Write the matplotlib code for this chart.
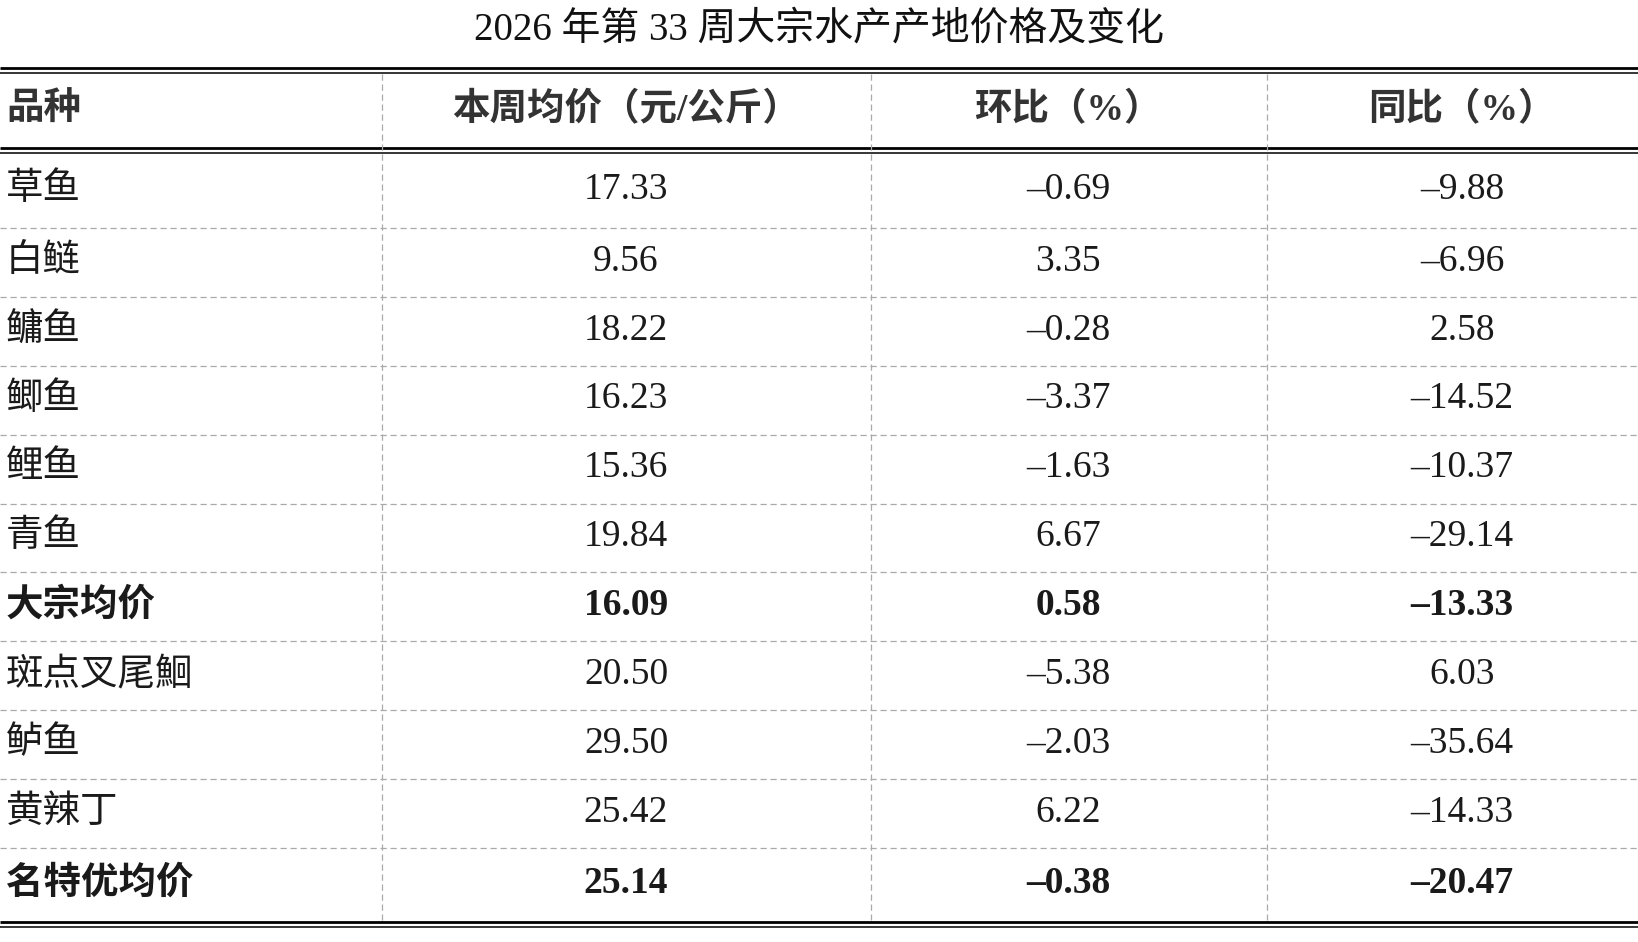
import matplotlib
matplotlib.use('Agg')
import matplotlib.pyplot as plt

plt.rcParams['font.family'] = ['Liberation Serif', 'Noto Sans CJK SC', 'DejaVu Sans']

title = '2026 年第 33 周大宗水产产地价格及变化'
headers = ['品种', '本周均价（元/公斤）', '环比（%）', '同比（%）']
varieties = ['草鱼', '白鲢', '鳙鱼', '鲫鱼', '鲤鱼', '青鱼', '大宗均价',
             '斑点叉尾鮰', '鲈鱼', '黄辣丁', '名特优均价']
price = [17.33, 9.56, 18.22, 16.23, 15.36, 19.84, 16.09, 20.50, 29.50, 25.42, 25.14]
mom = [-0.69, 3.35, -0.28, -3.37, -1.63, 6.67, 0.58, -5.38, -2.03, 6.22, -0.38]
yoy = [-9.88, -6.96, 2.58, -14.52, -10.37, -29.14, -13.33, 6.03, -35.64, -14.33, -20.47]
bold_rows = ['大宗均价', '名特优均价']

W, H = 1638, 942
fig = plt.figure(figsize=(W / 100, H / 100), dpi=100)
ax = fig.add_axes([0, 0, 1, 1])
ax.set_xlim(0, W)
ax.set_ylim(H, 0)
ax.axis('off')

# layout (pixels)
top_y = 70
head_bot = 150
first_sep = 228
last_sep = 848
bot_y = 924
col_div = [382, 871, 1267]
col_x = [6, 626, 1068, 1462]
fs_cjk = 27
fs_num = 27


def fmt(v):
    return f'{v:.2f}'.replace('-', '–')


def double_line(y):
    ax.plot([0, W], [y - 2.5, y - 2.5], color='black', lw=2.0, solid_capstyle='butt')
    ax.plot([0, W], [y + 2.8, y + 2.8], color='black', lw=1.1, solid_capstyle='butt')


ax.text(W / 2, 30, title, ha='center', va='center', fontsize=28, color='#111111')

double_line(top_y)
double_line(head_bot)
double_line(bot_y)

for x in col_div:
    ax.plot([x, x], [top_y + 4, bot_y - 4], color='#aaaaaa', lw=0.9, ls=(0, (5, 3)))

n = len(varieties)
step = (last_sep - first_sep) / (n - 2)
bounds = [head_bot + 3] + [first_sep + i * step for i in range(n - 1)] + [bot_y - 3]
for y in bounds[1:-1]:
    ax.plot([0, W], [y, y], color='#aaaaaa', lw=0.9, ls=(0, (5, 3)))

hy = (top_y + head_bot) / 2
for i, h in enumerate(headers):
    ax.text(col_x[i], hy, h, ha='left' if i == 0 else 'center', va='center',
            fontsize=fs_cjk, fontweight='bold', color='#333333')

for i, name in enumerate(varieties):
    y = (bounds[i] + bounds[i + 1]) / 2 - 1
    wt = 'bold' if name in bold_rows else 'normal'
    row = [name, fmt(price[i]), fmt(mom[i]), fmt(yoy[i])]
    for j, s in enumerate(row):
        ax.text(col_x[j], y, s, ha='left' if j == 0 else 'center', va='center',
                fontsize=fs_cjk if j == 0 else fs_num, fontweight=wt, color='#1a1a1a')

fig.savefig('out.png', dpi=100)
